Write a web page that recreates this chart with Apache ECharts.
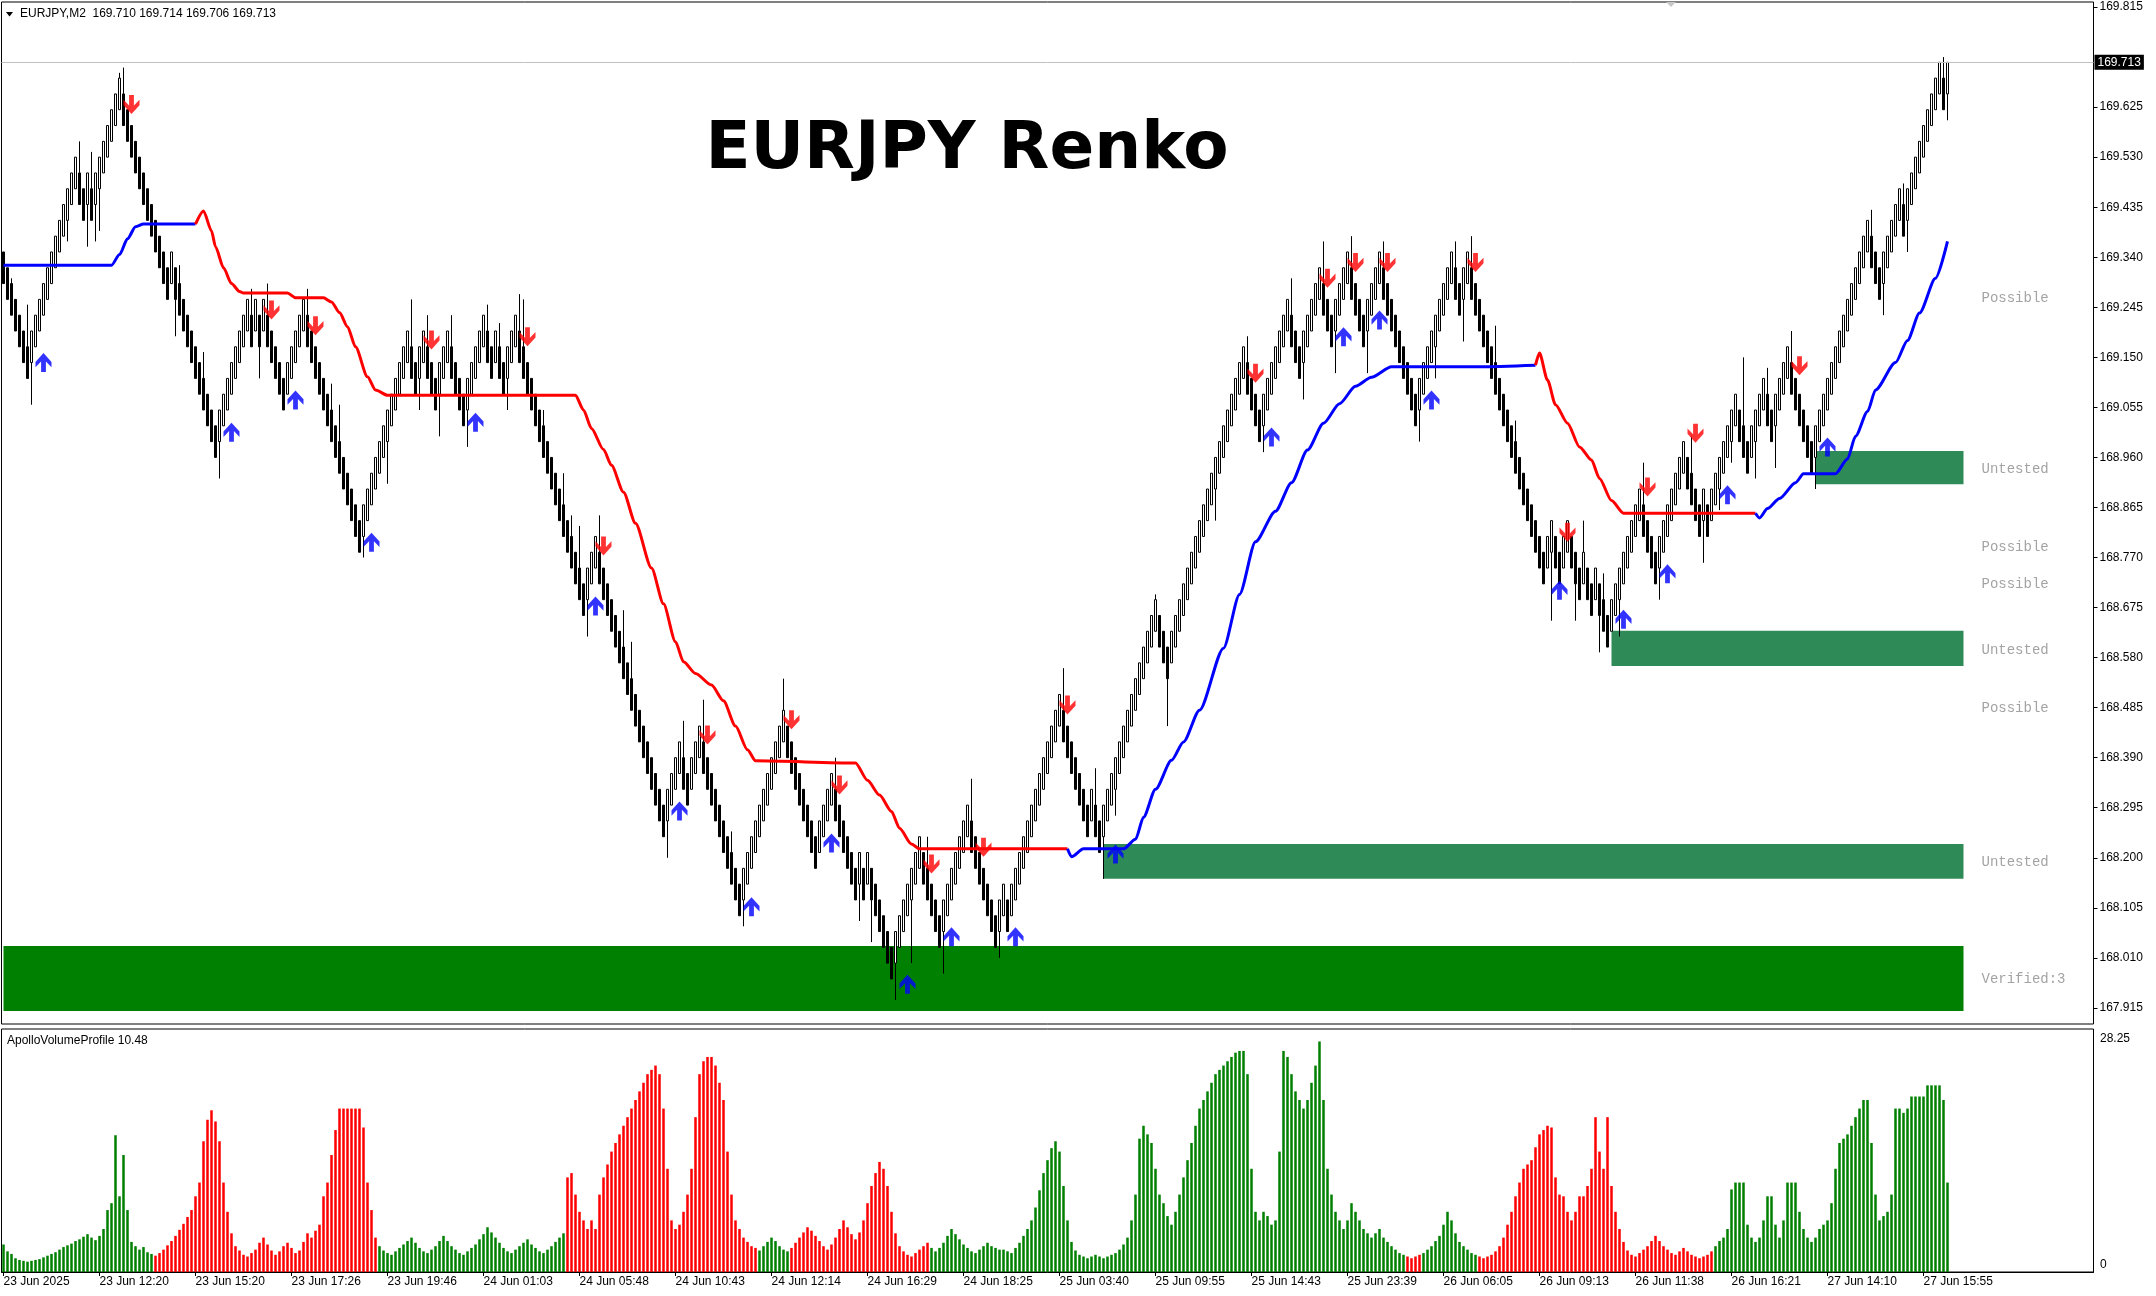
<!DOCTYPE html>
<html><head><meta charset="utf-8">
<script src="https://cdn.jsdelivr.net/npm/echarts@6/dist/echarts.min.js"></script>
<style>html,body{margin:0;padding:0;background:#fff;}#c{width:2156px;height:1296px;}</style>
</head><body><div id="c"></div>
<script>
// ---------- DATA ----------
const closes = [
169.29,
169.26,169.23,169.20,169.17,169.14,169.11,
169.20,169.23,169.26,169.29,169.32,169.35,169.38,169.41,169.44,169.47,169.50,169.53,
169.44,169.41,169.50,169.41,169.50,
169.53,
169.56,169.59,169.62,169.65,169.68,
169.59,169.56,169.53,169.50,169.47,169.44,169.41,169.38,169.35,169.32,169.29,169.26,
169.35,
169.26,169.23,169.20,169.17,169.14,169.11,169.08,169.05,169.02,168.99,168.96,
169.05,169.08,169.11,169.14,169.17,169.20,169.23,169.26,
169.17,169.26,169.17,169.26,
169.17,169.14,169.11,169.08,169.05,
169.14,169.17,169.20,169.23,169.26,
169.17,169.14,169.11,169.08,169.05,169.02,168.99,168.96,168.93,168.90,168.87,168.84,168.81,168.78,
168.87,168.90,168.93,168.96,168.99,169.02,169.05,169.08,169.11,169.14,169.17,169.20,
169.11,169.08,169.17,169.20,169.11,169.08,169.05,
169.14,169.17,169.20,
169.11,169.08,169.05,169.02,
169.11,169.14,169.17,169.20,169.23,
169.14,169.11,
169.20,
169.11,169.08,
169.17,169.20,169.23,
169.14,169.11,169.08,169.05,169.02,168.99,168.96,168.93,168.90,168.87,168.84,168.81,168.78,168.75,168.72,168.69,168.66,
168.75,168.78,168.81,
168.72,168.69,168.66,168.63,168.60,168.57,168.54,168.51,168.48,168.45,168.42,168.39,168.36,168.33,168.30,168.27,168.24,
168.33,168.36,168.39,168.42,
168.33,168.30,
168.39,168.42,168.45,
168.36,168.33,168.30,168.27,168.24,168.21,168.18,168.15,168.12,168.09,
168.18,168.21,168.24,168.27,168.30,168.33,168.36,168.39,168.42,168.45,168.48,
168.39,168.36,168.33,168.30,168.27,168.24,168.21,168.18,
168.27,168.30,168.33,168.36,
168.27,168.24,168.21,168.18,168.15,168.12,
168.21,168.12,168.21,
168.12,168.09,168.06,168.03,168.00,167.97,
168.06,168.09,168.12,168.15,168.18,168.21,168.24,
168.15,168.12,168.09,168.06,168.03,
168.12,168.15,168.18,168.21,168.24,168.27,168.30,
168.21,168.18,168.15,168.12,168.09,168.06,168.03,
168.12,168.15,
168.06,
168.15,168.18,168.21,168.24,168.27,168.30,168.33,168.36,168.39,168.42,168.45,168.48,168.51,
168.42,168.39,168.36,168.33,168.30,168.27,168.24,
168.33,
168.24,168.21,
168.30,168.33,168.36,168.39,168.42,168.45,168.48,168.51,168.54,168.57,168.60,168.63,168.66,168.69,
168.60,168.57,168.54,
168.63,168.66,168.69,168.72,168.75,168.78,168.81,168.84,168.87,168.90,168.93,168.96,168.99,169.02,169.05,169.08,169.11,169.14,169.17,
169.08,169.05,169.02,168.99,
169.08,169.11,169.14,169.17,169.20,169.23,169.26,
169.17,169.14,169.11,
169.20,169.23,169.26,169.29,169.32,
169.23,169.20,169.17,
169.26,169.29,169.32,169.35,
169.26,169.23,169.20,169.17,
169.26,169.29,169.32,169.35,
169.26,169.23,169.20,169.17,169.14,169.11,169.08,169.05,169.02,
169.11,169.14,169.17,169.20,169.23,169.26,169.29,169.32,169.35,
169.26,169.23,
169.32,169.35,
169.26,169.23,169.20,169.17,169.14,169.11,169.08,169.05,169.02,168.99,168.96,168.93,168.90,168.87,168.84,168.81,168.78,168.75,168.72,
168.81,168.84,
168.75,168.72,
168.81,168.84,
168.75,168.72,168.69,
168.78,
168.69,168.66,
168.75,
168.66,168.63,168.60,
168.69,168.72,168.75,168.78,168.81,168.84,168.87,168.90,
168.81,168.78,168.75,168.72,
168.81,168.84,168.87,168.90,168.93,168.96,168.99,
168.90,168.87,168.84,168.81,
168.90,
168.81,
168.90,168.93,168.96,168.99,169.02,169.05,169.08,
168.99,168.96,168.93,
169.02,169.05,169.08,169.11,
169.02,168.99,
169.08,169.11,169.14,169.17,
169.08,169.05,169.02,168.99,168.96,168.93,
169.02,169.05,169.08,169.11,169.14,169.17,169.20,169.23,169.26,169.29,169.32,169.35,169.38,169.41,
169.32,169.29,169.26,
169.35,169.38,169.41,169.44,169.47,
169.38,
169.47,169.50,169.53,169.56,169.59,169.62,169.65,169.68,169.71,
169.62,
169.71];

const opens = [
169.35,
169.32,169.29,169.26,169.23,169.20,169.17,
169.14,169.17,169.20,169.23,169.26,169.29,169.32,169.35,169.38,169.41,169.44,169.47,
169.50,169.47,169.44,169.47,169.44,
169.47,
169.50,169.53,169.56,169.59,169.62,
169.65,169.62,169.59,169.56,169.53,169.50,169.47,169.44,169.41,169.38,169.35,169.32,
169.29,
169.32,169.29,169.26,169.23,169.20,169.17,169.14,169.11,169.08,169.05,169.02,
168.99,169.02,169.05,169.08,169.11,169.14,169.17,169.20,
169.23,169.20,169.23,169.20,
169.23,169.20,169.17,169.14,169.11,
169.08,169.11,169.14,169.17,169.20,
169.23,169.20,169.17,169.14,169.11,169.08,169.05,169.02,168.99,168.96,168.93,168.90,168.87,168.84,
168.81,168.84,168.87,168.90,168.93,168.96,168.99,169.02,169.05,169.08,169.11,169.14,
169.17,169.14,169.11,169.14,169.17,169.14,169.11,
169.08,169.11,169.14,
169.17,169.14,169.11,169.08,
169.05,169.08,169.11,169.14,169.17,
169.20,169.17,
169.14,
169.17,169.14,
169.11,169.14,169.17,
169.20,169.17,169.14,169.11,169.08,169.05,169.02,168.99,168.96,168.93,168.90,168.87,168.84,168.81,168.78,168.75,168.72,
168.69,168.72,168.75,
168.78,168.75,168.72,168.69,168.66,168.63,168.60,168.57,168.54,168.51,168.48,168.45,168.42,168.39,168.36,168.33,168.30,
168.27,168.30,168.33,168.36,
168.39,168.36,
168.33,168.36,168.39,
168.42,168.39,168.36,168.33,168.30,168.27,168.24,168.21,168.18,168.15,
168.12,168.15,168.18,168.21,168.24,168.27,168.30,168.33,168.36,168.39,168.42,
168.45,168.42,168.39,168.36,168.33,168.30,168.27,168.24,
168.21,168.24,168.27,168.30,
168.33,168.30,168.27,168.24,168.21,168.18,
168.15,168.18,168.15,
168.18,168.15,168.12,168.09,168.06,168.03,
168.00,168.03,168.06,168.09,168.12,168.15,168.18,
168.21,168.18,168.15,168.12,168.09,
168.06,168.09,168.12,168.15,168.18,168.21,168.24,
168.27,168.24,168.21,168.18,168.15,168.12,168.09,
168.06,168.09,
168.12,
168.09,168.12,168.15,168.18,168.21,168.24,168.27,168.30,168.33,168.36,168.39,168.42,168.45,
168.48,168.45,168.42,168.39,168.36,168.33,168.30,
168.27,
168.30,168.27,
168.24,168.27,168.30,168.33,168.36,168.39,168.42,168.45,168.48,168.51,168.54,168.57,168.60,168.63,
168.66,168.63,168.60,
168.57,168.60,168.63,168.66,168.69,168.72,168.75,168.78,168.81,168.84,168.87,168.90,168.93,168.96,168.99,169.02,169.05,169.08,169.11,
169.14,169.11,169.08,169.05,
169.02,169.05,169.08,169.11,169.14,169.17,169.20,
169.23,169.20,169.17,
169.14,169.17,169.20,169.23,169.26,
169.29,169.26,169.23,
169.20,169.23,169.26,169.29,
169.32,169.29,169.26,169.23,
169.20,169.23,169.26,169.29,
169.32,169.29,169.26,169.23,169.20,169.17,169.14,169.11,169.08,
169.05,169.08,169.11,169.14,169.17,169.20,169.23,169.26,169.29,
169.32,169.29,
169.26,169.29,
169.32,169.29,169.26,169.23,169.20,169.17,169.14,169.11,169.08,169.05,169.02,168.99,168.96,168.93,168.90,168.87,168.84,168.81,168.78,
168.75,168.78,
168.81,168.78,
168.75,168.78,
168.81,168.78,168.75,
168.72,
168.75,168.72,
168.69,
168.72,168.69,168.66,
168.63,168.66,168.69,168.72,168.75,168.78,168.81,168.84,
168.87,168.84,168.81,168.78,
168.75,168.78,168.81,168.84,168.87,168.90,168.93,
168.96,168.93,168.90,168.87,
168.84,
168.87,
168.84,168.87,168.90,168.93,168.96,168.99,169.02,
169.05,169.02,168.99,
168.96,168.99,169.02,169.05,
169.08,169.05,
169.02,169.05,169.08,169.11,
169.14,169.11,169.08,169.05,169.02,168.99,
168.96,168.99,169.02,169.05,169.08,169.11,169.14,169.17,169.20,169.23,169.26,169.29,169.32,169.35,
169.38,169.35,169.32,
169.29,169.32,169.35,169.38,169.41,
169.44,
169.41,169.44,169.47,169.50,169.53,169.56,169.59,169.62,169.65,
169.68,
169.65];

// wick extremes: [bar, price]
const highWicks = [[2,169.30],[6,169.25],[19,169.56],[22,169.54],[29,169.69],[30,169.70],[44,169.325],[50,169.16],[62,169.28],[66,169.29],[76,169.28],[82,169.10],[84,169.06],[102,169.26],[106,169.23],[112,169.23],[121,169.25],[124,169.215],[129,169.27],[130,169.26],[135,169.05],[140,168.93],[142,168.85],[144,168.83],[149,168.85],[155,168.67],[157,168.61],[170,168.46],[175,168.50],[182,168.25],[195,168.54],[208,168.39],[231,168.24],[242,168.35],[265,168.56],[273,168.37],[288,168.70],[311,169.19],[322,169.30],[330,169.37],[337,169.38],[345,169.37],[363,169.37],[367,169.38],[373,169.21],[378,169.03],[395,168.84],[400,168.74],[410,168.95],[422,169.00],[435,169.15],[441,169.13],[447,169.20],[467,169.43],[475,169.48],[485,169.72]];
const lowWicks = [[7,169.06],[16,169.37],[21,169.36],[23,169.37],[24,169.39],[43,169.19],[54,168.92],[64,169.11],[90,168.77],[96,168.91],[104,169.05],[109,169.00],[116,168.98],[126,169.05],[146,168.62],[166,168.20],[185,168.07],[214,168.08],[217,168.04],[223,167.93],[227,168.00],[235,167.98],[249,168.01],[275,168.16],[278,168.28],[291,168.45],[303,168.84],[315,168.97],[325,169.07],[333,169.12],[341,169.12],[354,168.99],[358,169.11],[365,169.18],[387,168.65],[393,168.65],[399,168.59],[404,168.62],[414,168.69],[425,168.76],[429,168.86],[432,168.95],[438,168.92],[443,168.94],[453,168.90],[470,169.23],[476,169.35],[486,169.60]];

const volumes = [
3.2,2.4,2.1,1.6,1.4,1.3,1.2,1.3,1.4,1.5,
1.7,1.9,2.1,2.3,2.6,2.9,3.1,3.3,3.6,3.8,
4.1,4.4,4.0,3.7,4.2,5.0,7.2,8.0,15.9,8.8,
13.6,7.2,3.5,3.0,2.6,2.9,2.3,2.1,1.9,2.2,
2.6,3.1,3.6,4.2,4.9,5.6,6.4,7.2,8.8,10.4,
15.2,17.7,18.8,17.5,15.2,10.4,7.0,4.5,3.0,2.5,
2.0,1.8,2.2,2.6,3.4,4.0,3.2,2.5,2.0,2.4,
3.0,3.4,2.8,2.2,2.5,3.5,4.5,4.0,4.8,5.5,
8.8,10.4,13.6,16.5,19.0,19.0,19.0,19.0,19.0,19.0,
16.8,10.4,7.2,4.0,3.0,2.5,2.2,2.0,2.4,2.8,
3.2,3.6,4.0,3.4,2.8,2.4,2.2,2.6,3.0,3.6,
4.2,3.6,3.0,2.6,2.2,2.0,2.4,2.8,3.2,3.8,
4.4,5.2,4.6,4.0,3.4,2.8,2.4,2.2,2.6,3.0,
3.4,3.8,3.2,2.8,2.4,2.2,2.6,3.0,3.5,4.0,
4.5,11.0,11.5,9.0,7.0,6.0,5.0,6.0,5.0,9.0,
11.0,12.5,14.0,15.0,16.0,17.0,18.0,19.0,20.0,21.0,
22.0,23.0,23.5,24.0,23.0,19.0,12.0,6.0,5.0,5.5,
7.0,9.0,12.0,18.0,23.0,24.5,25.0,25.0,24.0,22.0,
20.0,14.0,9.0,6.0,5.0,4.0,3.5,3.0,2.8,2.5,
3.0,3.5,4.0,3.6,3.0,2.6,2.4,2.8,3.4,4.0,
4.6,5.2,4.8,4.2,3.6,3.0,2.6,3.2,4.0,5.0,
6.0,5.2,4.4,3.8,4.6,6.0,8.0,10.0,11.5,12.8,
12.0,10.0,7.0,4.5,3.0,2.4,2.0,1.8,2.2,2.6,
3.0,3.4,2.8,2.4,2.8,3.4,4.2,5.0,4.4,3.8,
3.2,2.8,2.4,2.2,2.6,3.0,3.4,3.0,2.8,2.6,
2.6,2.4,2.2,2.8,3.4,4.2,5.0,6.0,7.5,9.5,
11.5,13.0,14.4,15.2,14.0,10.0,6.0,3.5,2.5,2.0,
1.8,1.6,1.8,2.0,1.8,1.6,1.8,2.0,2.2,2.6,
3.2,4.0,6.0,9.0,15.5,17.0,16.0,15.0,12.0,9.0,
8.0,6.5,5.5,7.0,9.0,11.0,13.0,15.0,17.0,19.0,
20.0,21.0,22.0,23.0,23.5,24.0,24.5,25.0,25.5,25.7,
25.7,23.0,12.0,7.0,6.0,7.0,6.5,5.5,6.0,14.0,
25.7,25.0,23.0,21.0,20.0,19.0,20.0,22.0,24.0,26.8,
20.0,12.0,9.0,7.0,6.0,5.0,6.0,8.0,7.0,6.0,
5.0,4.5,4.0,4.5,5.0,4.0,3.5,3.0,2.6,2.2,
2.0,1.8,1.6,1.8,2.0,2.2,2.6,3.0,3.6,4.2,
5.5,7.0,6.0,4.5,3.5,3.0,2.6,2.2,2.0,1.8,
1.6,1.8,2.0,2.4,3.0,4.0,5.5,7.0,8.8,10.4,
12.0,12.5,13.0,14.5,16.0,16.5,17.0,16.8,11.0,9.0,
8.8,7.0,6.0,7.0,8.8,8.8,10.0,12.0,18.0,14.0,
12.0,18.0,10.0,7.0,5.0,3.5,2.5,2.0,1.8,2.2,
2.6,3.0,3.6,4.2,3.6,3.0,2.6,2.2,2.0,2.4,
2.8,2.4,2.0,1.8,1.6,1.8,2.0,2.4,3.0,3.6,
4.0,5.0,9.6,10.4,10.4,10.4,5.5,4.0,3.5,4.0,
6.0,8.8,8.8,5.5,4.0,6.0,10.4,10.4,10.4,7.0,
5.0,4.0,3.5,4.0,5.0,5.5,6.0,8.0,12.0,15.0,
15.5,16.0,17.0,18.0,19.0,20.0,20.0,15.0,9.0,6.0,
6.5,7.0,9.0,19.0,19.0,18.5,19.0,20.4,20.4,20.4,
20.4,21.7,21.7,21.7,21.7,20.0,10.4];
const volRedRanges = [[38,93],[141,188],[197,231],[351,354],[369,427]];

const timeLabels = ['23 Jun 2025','23 Jun 12:20','23 Jun 15:20','23 Jun 17:26','23 Jun 19:46','24 Jun 01:03','24 Jun 05:48','24 Jun 10:43','24 Jun 12:14','24 Jun 16:29','24 Jun 18:25','25 Jun 03:40','25 Jun 09:55','25 Jun 14:43','25 Jun 23:39','26 Jun 06:05','26 Jun 09:13','26 Jun 11:38','26 Jun 16:21','27 Jun 14:10','27 Jun 15:55'];
const priceTicks = [169.815,169.625,169.530,169.435,169.340,169.245,169.150,169.055,168.960,168.865,168.770,168.675,168.580,168.485,168.390,168.295,168.200,168.105,168.010,167.915];
const lastPrice = 169.713;
const volMax = 28.25;

// trend line key points [bar, price]
const blueLine1 = [[0,169.325],[27,169.325],[29,169.345],[31,169.375],[33,169.398],[35,169.403],[48,169.403]];
const redLine1 = [[48,169.403],[50,169.428],[52,169.39],[53,169.36],[55,169.32],[57,169.29],[59,169.275],[60,169.272],[71,169.272],[73,169.263],[80,169.263],[82,169.255],[84,169.235],[86,169.208],[88,169.17],[91,169.113],[93,169.088],[96,169.078],[143,169.078],[145,169.05],[147,169.015],[150,168.975],[152,168.945],[155,168.894],[158,168.835],[162,168.75],[165,168.682],[168,168.61],[170,168.572],[173,168.55],[177,168.528],[180,168.498],[183,168.45],[186,168.405],[188,168.384],[213,168.38],[216,168.347],[219,168.319],[222,168.288],[224,168.256],[227,168.226],[229,168.217],[266,168.217]];
const blueLine2 = [[266,168.217],[267,168.202],[270,168.217],[280,168.217],[283,168.235],[285,168.277],[288,168.33],[292,168.385],[295,168.42],[299,168.48],[305,168.598],[309,168.70],[313,168.80],[318,168.858],[322,168.912],[326,168.974],[330,169.025],[334,169.062],[338,169.095],[342,169.112],[347,169.132],[369,169.132],[383,169.135]];
const redLine2 = [[383,169.135],[384,169.158],[386,169.107],[388,169.06],[391,169.025],[394,168.98],[397,168.955],[399,168.92],[402,168.878],[405,168.854],[438,168.854]];
const blueLine3 = [[438,168.854],[439,168.845],[441,168.863],[444,168.882],[448,168.912],[450,168.929],[458,168.929],[461,168.957],[463,169.0],[466,169.047],[468,169.088],[473,169.14],[476,169.182],[479,169.234],[483,169.3],[486,169.37]];

const redArrows = [[32,169.63],[67,169.24],[78,169.21],[107,169.183],[131,169.189],[150,168.792],[176,168.433],[197,168.462],[209,168.338],[232,168.188],[245,168.22],[266,168.49],[313,169.12],[331,169.30],[338,169.33],[346,169.33],[368,169.33],[391,168.818],[411,168.904],[423,169.006],[449,169.134]];
const blueArrows = [[10,169.14],[57,169.008],[73,169.069],[92,168.799],[118,169.027],[148,168.678],[169,168.289],[187,168.107],[207,168.228],[226,167.96],[237,168.05],[253,168.05],[278,168.207],[317,168.999],[335,169.189],[344,169.221],[357,169.069],[389,168.708],[405,168.653],[416,168.739],[431,168.889],[456,168.98]];

// supply/demand zones
const zoneFrom = [0, 275, 402, 453];
const zoneTo = [490, 490, 490, 490];
const zoneHigh = [168.0325, 168.226, 168.631, 168.972];
const zoneLow = [167.909, 168.160, 168.564, 168.909];
const zoneKind = ['verified', 'untested', 'untested', 'untested'];
const zoneLabelPrices = [169.263, 168.938, 168.79, 168.72, 168.594, 168.484, 168.192, 167.97];
const zoneLabelTexts = ['Possible', 'Untested', 'Possible', 'Possible', 'Untested', 'Possible', 'Untested', 'Verified:3'];

// ---------- BUILD ----------
const NCAT = 523;
const cats = Array.from({length: NCAT}, (_, i) => String(i));
const hiMap = {}, loMap = {};
highWicks.forEach(([i, p]) => { hiMap[i] = p; });
lowWicks.forEach(([i, p]) => { loMap[i] = p; });
const candleData = opens.map((o, i) => {
  const c = closes[i];
  const hi = Math.max(o, c, hiMap[i] !== undefined ? hiMap[i] : -Infinity);
  const lo = Math.min(o, c, loMap[i] !== undefined ? loMap[i] : Infinity);
  return [o, c, lo, hi];
});
const isRed = i => volRedRanges.some(([a, b]) => i >= a && i <= b);
const volData = volumes.map((v, i) => ({value: v, itemStyle: {color: isRed(i) ? '#ff0000' : '#008000'}}));
const zoneColor = {verified: '#008000', untested: '#2e8b57'};
const FONT = 'Liberation Sans';
const upPath = 'path://M6,0 L12,6.5 L12,10.5 L7.8,6.2 L7.8,14 L4.2,14 L4.2,6.2 L0,10.5 L0,6.5 Z';
const downPath = 'path://M6,14 L12,7.5 L12,3.5 L7.8,7.8 L7.8,0 L4.2,0 L4.2,7.8 L0,3.5 L0,7.5 Z';
const labelInterval = (idx) => idx % 24 === 0 && idx / 24 < timeLabels.length;

const lineSeries = (data, color) => ({
  type: 'line', xAxisIndex: 0, yAxisIndex: 0, data: data, showSymbol: false, symbol: 'none',
  smooth: 0.25, smoothMonotone: 'x', lineStyle: {color: color, width: 3}, z: 4, silent: true
});

const option = {
  animation: false,
  backgroundColor: '#ffffff',
  grid: [
    {left: 1.5, right: 62.5, top: 2, height: 1022, show: true, borderColor: '#000', borderWidth: 1, backgroundColor: 'transparent'},
    {left: 1.5, right: 62.5, top: 1029, height: 243, show: true, borderColor: '#000', borderWidth: 1, backgroundColor: 'transparent'}
  ],
  xAxis: [
    {type: 'category', gridIndex: 0, data: cats, boundaryGap: true, axisLine: {show: false}, axisTick: {show: false}, axisLabel: {show: false}, splitLine: {show: false}},
    {type: 'category', gridIndex: 1, data: cats, boundaryGap: true,
     axisLine: {show: true, lineStyle: {color: '#000', width: 1}},
     axisTick: {show: true, alignWithLabel: true, interval: labelInterval, length: 4, lineStyle: {color: '#000'}},
     axisLabel: {show: true, interval: labelInterval, align: 'left', margin: 4, color: '#000', fontFamily: FONT, fontSize: 12,
       formatter: (v, idx) => timeLabels[idx / 24] || ''},
     splitLine: {show: false}}
  ],
  yAxis: [
    {type: 'value', gridIndex: 0, position: 'right', min: 167.8845, max: 169.8245, scale: true,
     axisLine: {show: false}, splitLine: {show: false},
     axisTick: {show: true, length: 4, lineStyle: {color: '#000'}, customValues: priceTicks},
     axisLabel: {show: true, customValues: priceTicks, formatter: v => v.toFixed(3), color: '#000', fontFamily: FONT, fontSize: 12, margin: 6}},
    {type: 'value', gridIndex: 1, position: 'right', min: 0, max: volMax,
     axisLine: {show: false}, splitLine: {show: false}, axisTick: {show: false}, axisLabel: {show: false}}
  ],
  graphic: [
    {type: 'polygon', shape: {points: [[6, 12], [13, 12], [9.5, 16.5]]}, style: {fill: '#000'}},
    {type: 'text', style: {x: 20, y: 14, text: 'EURJPY,M2  169.710 169.714 169.706 169.713', font: '12px "Liberation Sans"', fill: '#000', textVerticalAlign: 'middle', verticalAlign: 'middle'}},
    {type: 'polygon', shape: {points: [[1666, 2], [1676, 2], [1671, 7]]}, style: {fill: '#c8c8c8'}},
    {type: 'text', style: {x: 967, y: 151, text: 'EURJPY Renko', font: 'bold 66px "DejaVu Sans"', fill: '#000', textAlign: 'center', align: 'center', textVerticalAlign: 'middle', verticalAlign: 'middle'}},
    {type: 'text', style: {x: 7, y: 1041, text: 'ApolloVolumeProfile 10.48', font: '12px "Liberation Sans"', fill: '#000', textVerticalAlign: 'middle', verticalAlign: 'middle'}},
    {type: 'text', style: {x: 2100, y: 1039, text: volMax.toFixed(2), font: '12px "Liberation Sans"', fill: '#000', textVerticalAlign: 'middle', verticalAlign: 'middle'}},
    {type: 'text', style: {x: 2100, y: 1265, text: '0', font: '12px "Liberation Sans"', fill: '#000', textVerticalAlign: 'middle', verticalAlign: 'middle'}}
  ],
  series: [
    {type: 'line', xAxisIndex: 0, yAxisIndex: 0, data: [], z: 1, silent: true,
     markArea: {silent: true, data: zoneFrom.map((f, k) => [
       {xAxis: String(f), yAxis: zoneHigh[k], itemStyle: {color: zoneColor[zoneKind[k]], opacity: 1, borderWidth: 0}},
       {xAxis: String(zoneTo[k]), yAxis: zoneLow[k]}])},
     markLine: {silent: true, symbol: 'none', animation: false,
       lineStyle: {color: '#c0c0c0', width: 1, type: 'solid'},
       label: {show: true, position: 'end', formatter: () => lastPrice.toFixed(3), backgroundColor: '#000', color: '#fff', fontFamily: FONT, fontSize: 12, padding: [2, 3, 1, 3], distance: 1},
       data: [{yAxis: lastPrice}]}},
    {type: 'candlestick', xAxisIndex: 0, yAxisIndex: 0, data: candleData, barWidth: 2, z: 3,
     itemStyle: {color: '#ffffff', color0: '#000000', borderColor: '#000000', borderColor0: '#000000', borderWidth: 1}},
    lineSeries(blueLine1, '#0000ff'),
    lineSeries(redLine1, '#ff0000'),
    lineSeries(blueLine2, '#0000ff'),
    lineSeries(redLine2, '#ff0000'),
    lineSeries(blueLine3, '#0000ff'),
    {type: 'scatter', xAxisIndex: 0, yAxisIndex: 0, data: redArrows, symbol: downPath, symbolSize: [16, 19], itemStyle: {color: '#ff0000'}, z: 5, silent: true},
    {type: 'scatter', xAxisIndex: 0, yAxisIndex: 0, data: blueArrows, symbol: upPath, symbolSize: [16, 19], itemStyle: {color: '#0000ff'}, z: 5, silent: true},
    {type: 'scatter', xAxisIndex: 0, yAxisIndex: 0, data: zoneLabelPrices.map(p => [494, p]), symbolSize: 0, z: 5, silent: true,
     label: {show: true, position: 'right', distance: 2, formatter: (p) => zoneLabelTexts[p.dataIndex], fontFamily: 'Liberation Mono', fontSize: 14, color: '#8c8c8c'}},
    {type: 'bar', xAxisIndex: 1, yAxisIndex: 1, data: volData, barWidth: 2.5, z: 2}
  ]
};
const chart = echarts.init(document.getElementById('c'), null, {width: 2156, height: 1296});
chart.setOption(option);
</script>
</body></html>
